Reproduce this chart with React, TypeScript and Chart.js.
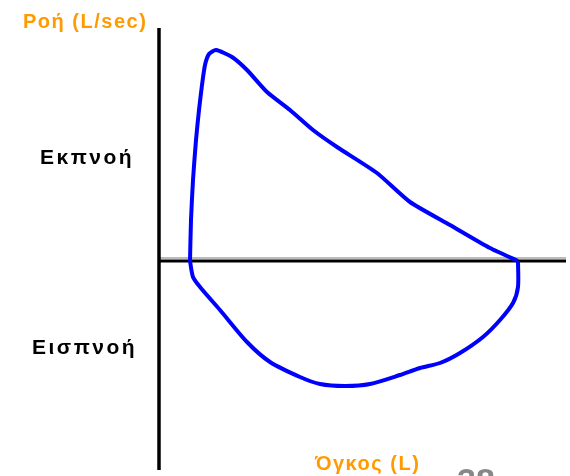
import { useEffect, useRef } from "react";
import { Chart, registerables } from "chart.js";

Chart.register(...registerables);

// Flow–volume loop (volume in L, flow in L/sec)
const expVolume = [0.62, 0.64, 0.68, 0.74, 0.8, 0.86, 0.92, 1.0, 1.14, 1.46, 1.76, 2.16, 2.62, 3.08, 3.56, 4.36, 5.02, 5.82, 6.62, 7.18];
const expFlow = [0, 1.64, 3.24, 4.84, 6.04, 7.04, 7.84, 8.28, 8.44, 8.16, 7.64, 6.76, 6.04, 5.24, 4.56, 3.52, 2.36, 1.44, 0.52, 0];

const inspVolume = [7.18, 7.18, 7.08, 6.82, 6.48, 6.02, 5.62, 5.22, 4.82, 4.22, 3.72, 3.22, 2.82, 2.22, 1.76, 1.22, 0.82, 0.68, 0.62];
const inspFlow = [0, -1.04, -1.68, -2.36, -3.04, -3.68, -4.08, -4.28, -4.56, -4.92, -5.0, -4.92, -4.64, -4.04, -3.24, -1.96, -1.04, -0.64, 0];

const volumeRange = [0, 8.14];
const flowRange = [-8.36, 9.32];

const flowTitle = "Ροή (L/sec)";
const volumeTitle = "Όγκος (L)";
const expLabel = "Εκπνοή";
const inspLabel = "Εισπνοή";
const pageNumber = "38";

const toPoints = (xs: number[], ys: number[]) => xs.map((x, i) => ({ x, y: ys[i] }));

const decorPlugin = {
  id: "decor",
  beforeDatasetsDraw(chart: any) {
    const { ctx, chartArea, scales } = chart;
    const x0 = scales.x.getPixelForValue(0);
    const y0 = scales.y.getPixelForValue(0);
    ctx.save();
    ctx.strokeStyle = "#bbbbbb";
    ctx.lineWidth = 2;
    ctx.beginPath();
    ctx.moveTo(x0, y0 - 3);
    ctx.lineTo(chartArea.right, y0 - 3);
    ctx.stroke();
    ctx.strokeStyle = "#000000";
    ctx.lineWidth = 3;
    ctx.beginPath();
    ctx.moveTo(x0, y0);
    ctx.lineTo(chartArea.right, y0);
    ctx.stroke();
    ctx.lineWidth = 3.5;
    ctx.beginPath();
    ctx.moveTo(x0, chartArea.top);
    ctx.lineTo(x0, chartArea.bottom);
    ctx.stroke();
    ctx.restore();
  },
  afterDraw(chart: any) {
    const { ctx } = chart;
    ctx.save();
    ctx.textAlign = "left";
    ctx.textBaseline = "alphabetic";
    ctx.fillStyle = "#FF9A00";
    ctx.font = "bold 20px 'Liberation Sans', Arial, sans-serif";
    (ctx as any).letterSpacing = "1.5px";
    ctx.fillText(flowTitle, 23, 28);
    ctx.fillText(volumeTitle, 315, 470);
    ctx.fillStyle = "#000000";
    ctx.font = "bold 21px 'Liberation Sans', Arial, sans-serif";
    (ctx as any).letterSpacing = "2.5px";
    ctx.fillText(expLabel, 40, 164);
    ctx.fillText(inspLabel, 32, 354);
    ctx.fillStyle = "#888888";
    (ctx as any).letterSpacing = "0px";
    ctx.font = "bold 34px 'Liberation Sans', Arial, sans-serif";
    ctx.fillText(pageNumber, 457, 492);
    ctx.restore();
  },
};

export default function App() {
  const canvasRef = useRef<HTMLCanvasElement | null>(null);

  useEffect(() => {
    if (!canvasRef.current) return;
    const chart = new Chart(canvasRef.current, {
      type: "scatter",
      data: {
        datasets: [
          {
            data: toPoints(expVolume, expFlow),
            showLine: true,
            borderColor: "#0000FF",
            borderWidth: 4,
            pointRadius: 0,
            tension: 0.2,
            fill: false,
          },
          {
            data: toPoints(inspVolume, inspFlow),
            showLine: true,
            borderColor: "#0000FF",
            borderWidth: 4,
            pointRadius: 0,
            tension: 0.25,
            fill: false,
          },
        ],
      },
      options: {
        animation: false,
        responsive: false,
        devicePixelRatio: 1,
        layout: { padding: { left: 159, right: 4, top: 28, bottom: 6 } },
        plugins: {
          legend: { display: false },
          tooltip: { enabled: false },
          title: { display: false },
        },
        scales: {
          x: { type: "linear", min: volumeRange[0], max: volumeRange[1], display: false },
          y: { type: "linear", min: flowRange[0], max: flowRange[1], display: false },
        },
      },
      plugins: [decorPlugin],
    });
    return () => chart.destroy();
  }, []);

  return (
    <div style={{ position: "absolute", left: 0, top: 0, width: 570, height: 476, background: "#fff" }}>
      <canvas ref={canvasRef} width={570} height={476} />
    </div>
  );
}
